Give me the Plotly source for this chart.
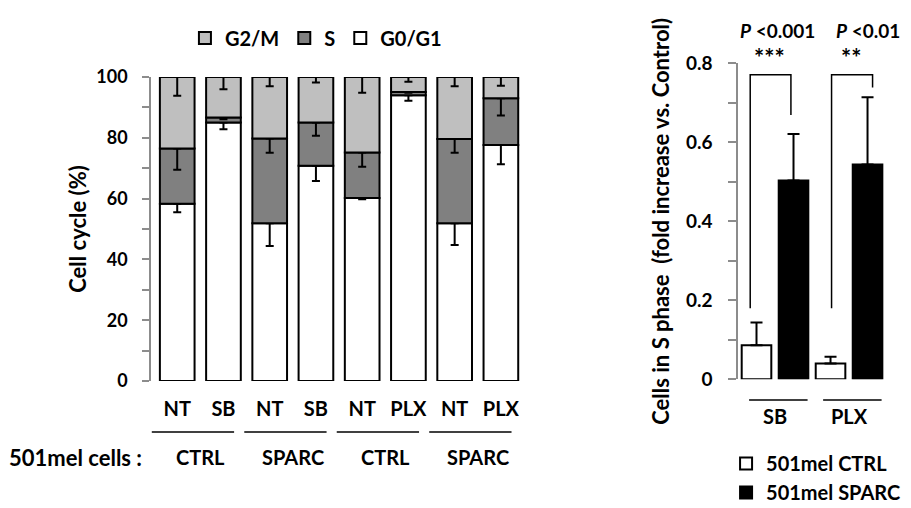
import plotly.graph_objects as go
import numpy as np

# ---------------- Left chart data ----------------
treatments = ["NT", "SB", "NT", "SB", "NT", "PLX", "NT", "PLX"]
cell_groups = ["CTRL", "SPARC", "CTRL", "SPARC"]
g0g1 = [58.3, 85.0, 51.9, 70.8, 60.2, 94.0, 51.9, 77.6]
s_phase = [18.2, 1.7, 27.9, 14.2, 15.0, 1.1, 27.7, 15.4]
g2m = [23.5, 13.3, 20.2, 15.0, 24.8, 4.9, 20.4, 7.0]
g0g1_err = [2.8, 2.2, 7.5, 5.0, 0.4, 1.8, 7.2, 6.3]
s_err = [7.0, 0.6, 4.7, 4.3, 4.7, 0.3, 4.5, 5.7]
g2m_err = [6.2, 4.0, 3.0, 1.8, 5.2, 1.6, 3.0, 2.9]

# ---------------- Right chart data ----------------
drugs = ["SB", "PLX"]
ctrl_fold = [0.086, 0.040]
ctrl_err = [0.058, 0.017]
sparc_fold = [0.503, 0.544]
sparc_err = [0.118, 0.170]
p_labels = ["<i>P</i> <0.001", "<i>P</i> <0.01"]
stars = ["***", "**"]

FONT = "Lato"
cats = [f"{t}_{i}" for i, t in enumerate(treatments)]

fig = go.Figure()

base_s = list(np.array(g0g1))
base_g2m = list(np.array(g0g1) + np.array(s_phase))

err_style = dict(type="data", symmetric=False, color="black", thickness=2, width=4)

fig.add_trace(go.Bar(
    x=cats, y=g0g1, name="G0/G1", width=0.75,
    marker=dict(color="white", line=dict(color="black", width=2)),
    error_y=dict(array=[0] * len(g0g1), arrayminus=g0g1_err, **err_style),
    legend="legend", xaxis="x", yaxis="y"))
fig.add_trace(go.Bar(
    x=cats, y=s_phase, base=base_s, name="S", width=0.75,
    marker=dict(color="#808080", line=dict(color="black", width=2)),
    error_y=dict(array=[0] * len(s_phase), arrayminus=s_err, **err_style),
    legend="legend", xaxis="x", yaxis="y"))
fig.add_trace(go.Bar(
    x=cats, y=g2m, base=base_g2m, name="G2/M", width=0.75,
    marker=dict(color="#BFBFBF", line=dict(color="black", width=2)),
    error_y=dict(array=[0] * len(g2m), arrayminus=g2m_err, **err_style),
    legend="legend", xaxis="x", yaxis="y"))

err_r = dict(type="data", symmetric=False, color="black", thickness=2, width=6)
fig.add_trace(go.Bar(
    x=drugs, y=ctrl_fold, name="501mel CTRL", width=0.40, offset=-0.45,
    marker=dict(color="white", line=dict(color="black", width=2)),
    error_y=dict(array=ctrl_err, arrayminus=[0, 0], **err_r),
    legend="legend2", xaxis="x2", yaxis="y2"))
fig.add_trace(go.Bar(
    x=drugs, y=sparc_fold, name="501mel SPARC", width=0.40, offset=0.05,
    marker=dict(color="black", line=dict(color="black", width=2)),
    error_y=dict(array=sparc_err, arrayminus=[0, 0], **err_r),
    legend="legend2", xaxis="x2", yaxis="y2"))

tickfont = dict(family=FONT, size=18, color="black", weight="bold")
tickfont2 = dict(family=FONT, size=19, color="black", weight="bold")
catfont = dict(family=FONT, size=20, color="black", weight="bold")
axis_gray = "#8c8c8c"

fig.update_layout(
    width=911, height=508, autosize=False,
    margin=dict(l=0, r=0, t=0, b=0, autoexpand=False),
    paper_bgcolor="white", plot_bgcolor="rgba(0,0,0,0)",
    barmode="overlay",
    font=dict(family=FONT, color="black"),
    showlegend=True,
    xaxis=dict(domain=[0.1658, 0.5752], anchor="y", type="category", categoryorder="array",
               categoryarray=cats, tickvals=cats, ticktext=treatments,
               showline=False, ticks="", showgrid=False, zeroline=False, automargin=False,
               tickfont=catfont, ticklabelstandoff=14, fixedrange=True),
    yaxis=dict(domain=[0.25, 0.8484], range=[0, 100], dtick=20, showgrid=False,
               zeroline=False, showline=True, linecolor=axis_gray, linewidth=1.5,
               automargin=False,
               ticks="outside", ticklen=7, tickcolor=axis_gray, tickwidth=1.5,
               minor=dict(dtick=10, ticks="outside", ticklen=7, tickcolor=axis_gray, tickwidth=1.5),
               tickfont=tickfont, ticklabelstandoff=11,
               title=dict(text="Cell cycle (%)",
                          font=dict(family=FONT, size=22, color="black", weight="bold"),
                          standoff=4)),
    xaxis2=dict(domain=[0.8101, 0.9726], anchor="y2", type="category", showline=False,
                ticks="", showgrid=False, zeroline=False, tickfont=catfont,
                ticklabelstandoff=24, automargin=False, range=[-0.5, 1.5]),
    yaxis2=dict(domain=[0.2533, 0.8754], anchor="x2", range=[0, 0.8], dtick=0.2,
                showgrid=False, zeroline=False, showline=True, linecolor=axis_gray,
                linewidth=1.5, automargin=False,
                ticks="outside", ticklen=8, tickcolor=axis_gray, tickwidth=1.5,
                minor=dict(dtick=0.1, ticks="outside", ticklen=8, tickcolor=axis_gray, tickwidth=1.5),
                tickfont=tickfont2, ticklabelstandoff=12,
                title=dict(text="Cells in S phase  (fold increase vs. Control)",
                           font=dict(family=FONT, size=22, color="black", weight="bold"),
                           standoff=10)),
    legend=dict(orientation="h", x=0.203, y=1 - 38 / 508, xanchor="left", yanchor="middle",
                traceorder="reversed", font=dict(family=FONT, size=20, weight="bold"),
                bgcolor="rgba(0,0,0,0)", itemwidth=30, tracegroupgap=0),
    legend2=dict(orientation="v", x=0.797, y=1 - 444 / 508, xanchor="left", yanchor="top",
                 font=dict(family=FONT, size=20, weight="bold"), bgcolor="rgba(0,0,0,0)",
                 itemwidth=30),
)

# group underlines & labels (left)
for k, g in enumerate(cell_groups):
    fig.add_shape(type="line", xref="x", yref="paper", x0=2 * k - 0.55, x1=2 * k + 1.23,
                  y0=1 - 432 / 508, y1=1 - 432 / 508, line=dict(color="black", width=1.5))
    fig.add_annotation(xref="x", yref="paper", x=2 * k + 0.5, y=1 - 457 / 508,
                       text=g, showarrow=False, font=catfont, yanchor="middle")
fig.add_annotation(xref="paper", yref="paper", x=75 / 911, y=1 - 457 / 508,
                   text="501mel cells :", showarrow=False,
                   font=dict(family=FONT, size=22, color="black", weight="bold"),
                   xanchor="center", yanchor="middle")

# right: underlines, brackets, significance
for k, d in enumerate(drugs):
    fig.add_shape(type="line", xref="x2", yref="paper", x0=k - 0.35, x1=k + 0.44,
                  y0=1 - 400 / 508, y1=1 - 400 / 508, line=dict(color="black", width=1.5))
br = [(-0.335, 0.215, 0.18, 0.669), (-0.236, 0.318, 0.18, 0.739)]
for k, (xl, xr, yl, yr) in enumerate(br):
    fig.add_shape(type="path", xref="x2", yref="y2",
                  path=f"M {k + xl},{yl} L {k + xl},0.771 L {k + xr},0.771 L {k + xr},{yr}",
                  line=dict(color="black", width=1.5))
    fig.add_annotation(xref="x2", yref="paper", x=k + (xl + xr) / 2 - 0.02, y=1 - 57 / 508,
                       text=stars[k], showarrow=False,
                       font=dict(family=FONT, size=24, weight="bold"), yanchor="middle")
fig.add_annotation(xref="x2", yref="paper", x=0.04, y=1 - 30 / 508, text=p_labels[0],
                   showarrow=False, font=dict(family=FONT, size=19, weight="bold"),
                   yanchor="middle")
fig.add_annotation(xref="x2", yref="paper", x=1.25, y=1 - 30 / 508, text=p_labels[1],
                   showarrow=False, font=dict(family=FONT, size=19, weight="bold"),
                   yanchor="middle")

fig.write_html("out.html", config={"displayModeBar": False},
               post_script="document.body.style.margin='0px';document.body.style.overflow='hidden';")
